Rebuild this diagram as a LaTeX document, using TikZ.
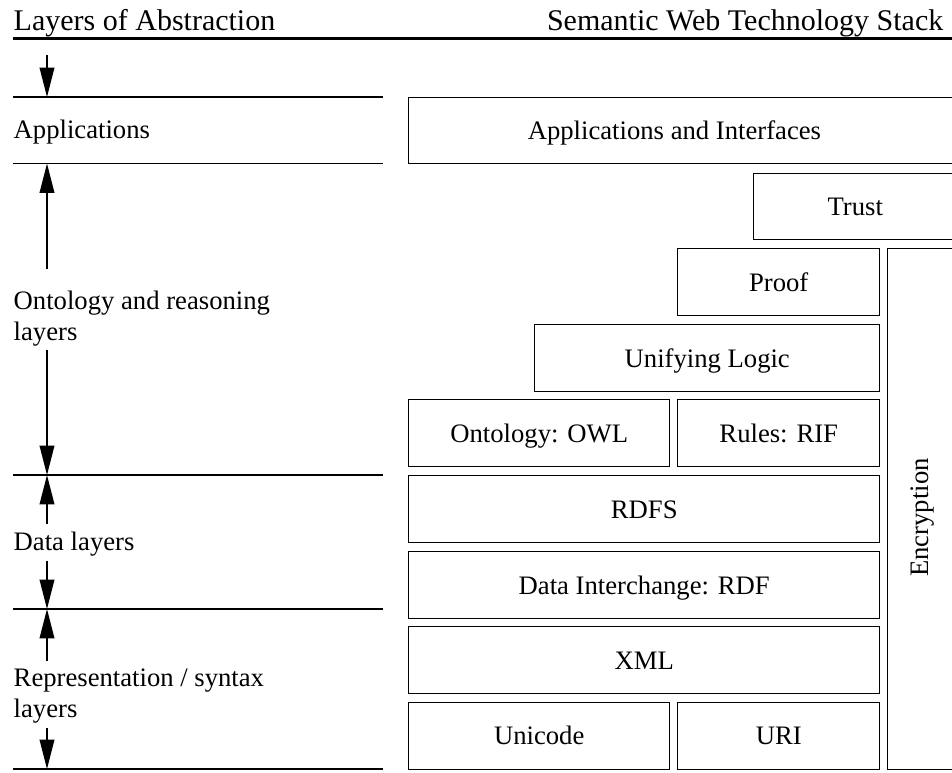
\documentclass[tikz,border=0pt]{standalone}
\usepackage{fontspec}
\setmainfont{Liberation Serif}
\usetikzlibrary{arrows.meta}
\tikzset{every picture/.style={line width=1.1pt}}
\tikzset{
  layer/.style 2 args={draw, anchor=north west, inner sep=0pt, minimum width=#1*0.75pt, minimum height=#2*0.75pt, text height=13.2pt, text depth=0pt, font=\fontsize{20}{24}\selectfont},
  sidelabel/.style={anchor=base west, inner sep=0pt, align=left, font=\fontsize{20}{23}\selectfont},
  heading/.style={inner sep=0pt, font=\fontsize{22.5}{27}\selectfont},
  levelarrow/.style={-{Triangle[length=22pt,width=11pt]}},
  uparrow/.style={levelarrow, shorten <=5pt},
  downarrow/.style={levelarrow, shorten <=3pt}
}

\begin{document}
\begin{tikzpicture}[x=0.75pt,y=0.75pt,yscale=-1,xscale=1]
\useasboundingbox (0,0) rectangle (952,772);
\clip (0,0) rectangle (952,772);

% Text Node: headings
\node[heading, anchor=base west] (hleft) at (13,30) {Layers of Abstraction};
\node[heading, anchor=base east] (hright) at (944,30) {Semantic Web Technology Stack};
%Straight Lines: heading rule
\draw[line width=2.3pt] (13,38.5) -- (960,38.5);

%Straight Lines: layer borders
\foreach \name/\y in {r0/97, r1/163.5, r2/475, r3/609, r4/769} {
  \coordinate (\name) at (13,\y);
  \draw (\name) -- ++(370,0);
}
\coordinate (ax) at (47,0);
\coordinate (top) at (47,55);

% Text Node: layer names (base = last line)
\node[sidelabel] (apps) at (13,138) {Applications};
\node[sidelabel] (onto) at (13,340) {Ontology and reasoning\\layers};
\node[sidelabel] (data) at (13,550) {Data layers};
\node[sidelabel] (repr) at (13,717) {Representation / syntax\\layers};

% arrows
\draw[levelarrow] (top) -- (r0 -| ax);
\draw[uparrow, shorten <=15.5pt] (onto.north -| ax) -- (r1 -| ax);
\draw[downarrow] (onto.south -| ax) -- (r2 -| ax);
\draw[uparrow] (data.north -| ax) -- (r2 -| ax);
\draw[downarrow] (data.south -| ax) -- (r3 -| ax);
\draw[uparrow] (repr.north -| ax) -- (r3 -| ax);
\draw[downarrow] (repr.south -| ax) -- (r4 -| ax);

%Shape: Rectangle (stack)
\node[layer={548}{66}] (appsbox) at (408,97) {Applications and Interfaces\hspace*{12.5pt}};
\node[layer={203}{66}] (trust) at (753,173) {Trust};
\node[layer={202}{67}] (proof) at (677,248) {Proof};
\node[layer={345}{67}] (logic) at (534,324) {Unifying Logic};
\node[layer={261}{67}] (owl) at (408,399) {Ontology: OWL};
\node[layer={202}{67}] (rif) at (677,399) {Rules: RIF};
\node[layer={471}{67}] (rdfs) at (408,475) {RDFS};
\node[layer={471}{67}] (rdf) at (408,551) {Data Interchange: RDF};
\node[layer={471}{67}] (xml) at (408,626) {XML};
\node[layer={261}{66.5}] (unicode) at (408,702) {Unicode};
\node[layer={202}{66.5}] (uri) at (677,702) {URI};
\node[draw, anchor=north west, minimum width=69*0.75pt, minimum height=520.5*0.75pt] (encr) at (887,248) {};
\node[rotate=90, inner sep=0pt, font=\fontsize{20}{24}\selectfont] (encrtext) at ([yshift=6.4pt]encr.center) {Encryption};

\end{tikzpicture}
\end{document}
